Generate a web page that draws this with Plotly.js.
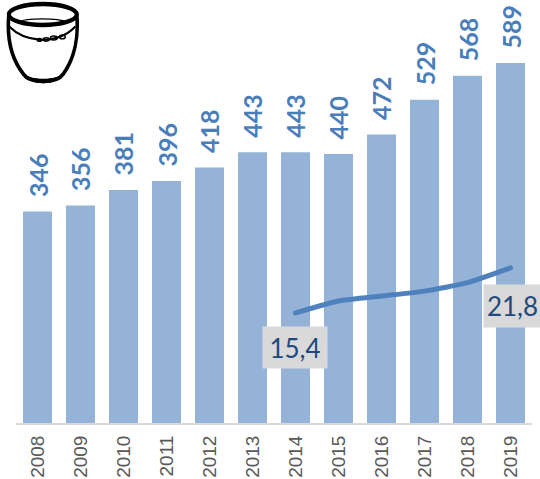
<!DOCTYPE html>
<html><head><meta charset="utf-8">
<script src="https://cdn.plot.ly/plotly-3.0.1.min.js"></script>
<style>html,body{margin:0;padding:0;background:#fff}.js-line{stroke-linecap:round}</style></head>
<body><div id="c" style="width:540px;height:479px"></div>
<script>
const years=['2008','2009','2010','2011','2012','2013','2014','2015','2016','2017','2018','2019'];
const barValues=[346,356,381,396,418,443,443,440,472,529,568,589];
const lineYears=['2014','2015','2016','2017','2018','2019'];
const lineValues=[15.4,17.1,17.8,18.5,19.7,21.8];
const lineLabels=['15,4','21,8'];
const glass='<svg xmlns="http://www.w3.org/2000/svg" width="82" height="88" viewBox="0 0 82 88">'+
'<g fill="none" stroke="#000" stroke-linecap="round">'+
'<ellipse cx="43.5" cy="14.5" rx="35.5" ry="10.5" stroke-width="4.4"/>'+
'<path d="M8 15 C6 36 10 58 23 74 C30 84 58 84 65 74 C77 58 81 36 79 15" stroke-width="3.8"/>'+
'<path d="M9 27 C18 36 30 39 41 40 C55 40 68 36 77 27" stroke-width="2.2"/>'+
'<path d="M20 22 C25 18 60 18 68 22" stroke-width="1.2"/>'+
'<ellipse cx="40" cy="40" rx="2.2" ry="1.4" stroke-width="1.5"/><ellipse cx="47" cy="39.5" rx="3" ry="1.6" stroke-width="1.5"/><ellipse cx="55" cy="38" rx="3.6" ry="2" stroke-width="1.5"/><ellipse cx="64" cy="37" rx="3" ry="1.8" stroke-width="1.5"/>'+
'</g><path d="M22 73 C30 81 58 81 66 73 C60 87 28 87 22 73Z" fill="#000"/></svg>';
const data=[
{type:'bar',x:years,y:barValues,marker:{color:'#95b3d7'},width:0.675,hoverinfo:'skip'},
{type:'scatter',mode:'lines',x:lineYears,y:lineValues,yaxis:'y2',line:{color:'#4f81bd',width:5,shape:'spline',smoothing:0.5},hoverinfo:'skip'}
];
const barLabels=barValues.map((v,i)=>({x:i,y:v,xref:'x',yref:'y',text:String(v),showarrow:false,textangle:-90,xanchor:'center',yanchor:'bottom',yshift:12,
 font:{family:'Lato',size:25,color:'#4a7ebb',weight:700}}));
const layout={width:540,height:479,margin:{l:15.5,r:8,t:0,b:56},paper_bgcolor:'#fff',plot_bgcolor:'#fff',showlegend:false,bargap:0.325,
 xaxis:{type:'category',categoryorder:'array',categoryarray:years,range:[-0.5,11.5],tickangle:-90,ticks:'',showgrid:false,ticklabelstandoff:3,
  tickfont:{family:'Liberation Sans',size:19,color:'#595959'},showline:true,linecolor:'#d9d9d9',linewidth:2,zeroline:false,automargin:false},
 yaxis:{range:[0,692],visible:false,showgrid:false,zeroline:false},
 yaxis2:{range:[-0.25,59.9],overlaying:'y',visible:false,showgrid:false,zeroline:false},
 annotations:barLabels.concat([
  {x:years.indexOf(lineYears[0]),y:lineValues[0],xref:'x',yref:'y2',text:lineLabels[0],showarrow:false,xanchor:'center',yanchor:'top',xshift:-1,yshift:-13,width:64,height:41,bgcolor:'#d9d9d9',borderpad:0,font:{family:'Lato',size:26,color:'#1f497d'}},
  {x:years.indexOf(lineYears[5]),y:lineValues[5],xref:'x',yref:'y2',text:lineLabels[1],showarrow:false,xanchor:'left',yanchor:'top',xshift:-27.5,yshift:-16,width:57,height:42,bgcolor:'#d9d9d9',borderpad:0,font:{family:'Lato',size:26,color:'#1f497d'}}
 ]),
 images:[{source:'data:image/svg+xml;charset=utf-8,'+encodeURIComponent(glass),xref:'paper',yref:'paper',x:-0.0287,y:1,sizex:0.152,sizey:0.2075,xanchor:'left',yanchor:'top',layer:'above',sizing:'stretch'}]
};
Plotly.newPlot('c',data,layout,{displayModeBar:false,staticPlot:true});
</script></body></html>
